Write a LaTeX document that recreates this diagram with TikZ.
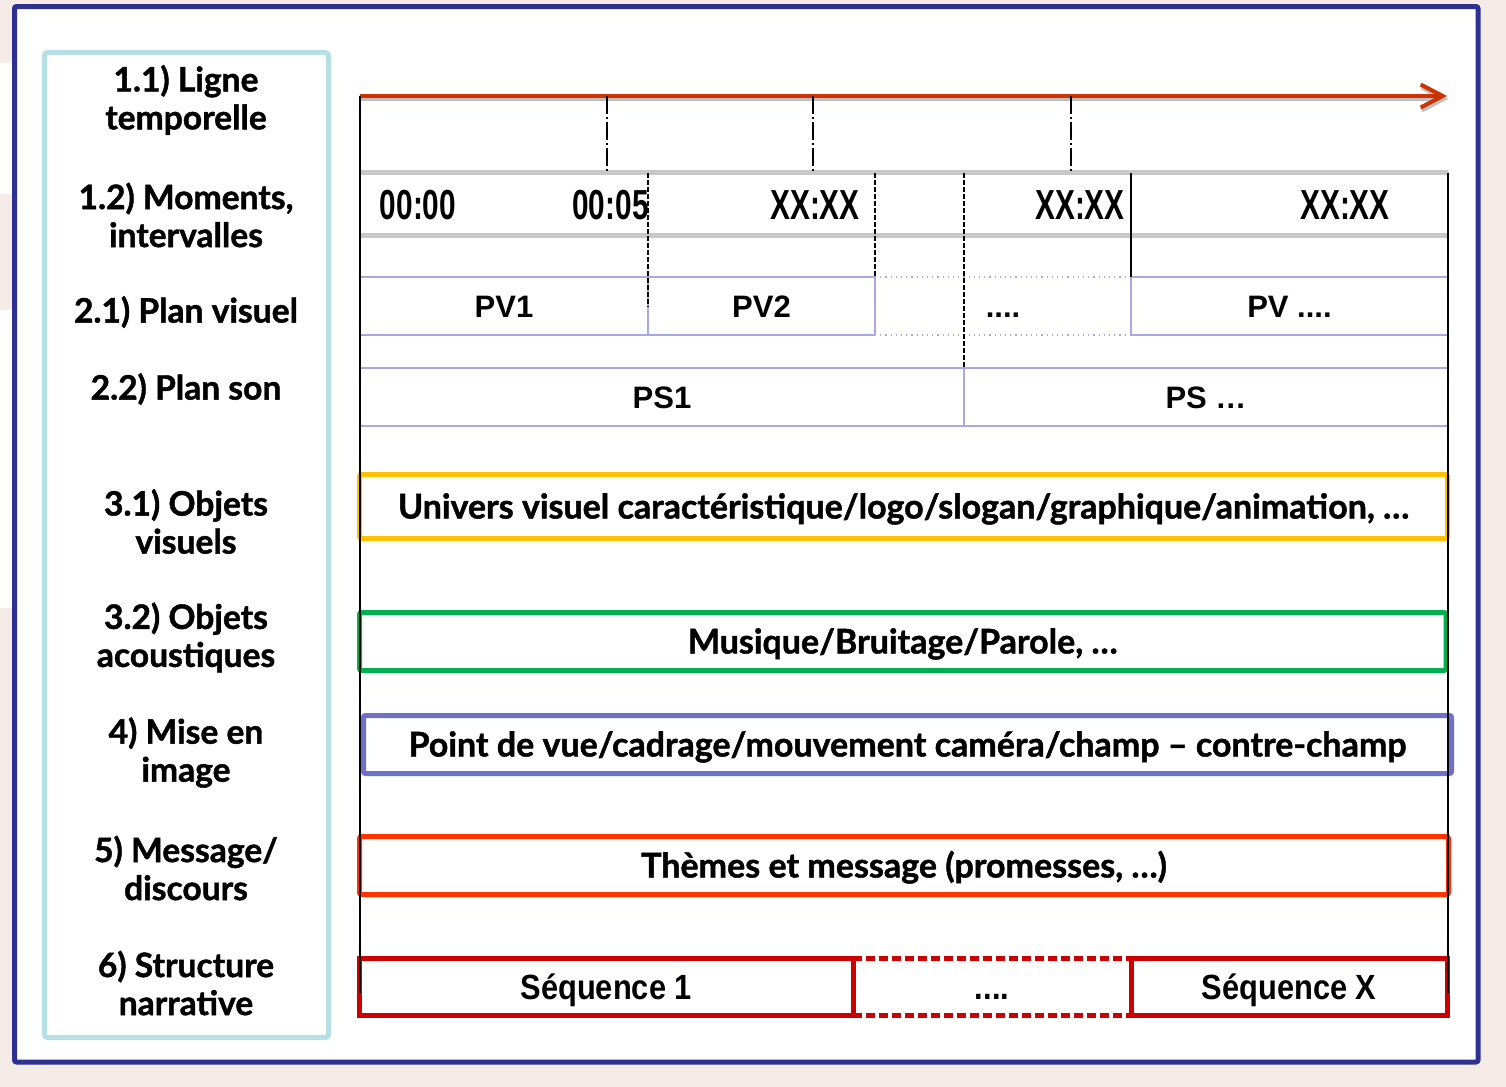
\documentclass[tikz,border=0pt]{standalone}
\usepackage{fontspec}
\setmainfont{Lato}[BoldFeatures={FakeBold=1.3}]
\newfontfamily\zeitfont[FakeStretch=0.71]{Liberation Sans}
\newfontfamily\seqfont[FakeStretch=0.88]{Liberation Sans}
\newfontfamily\pvfont{Liberation Sans}
\usetikzlibrary{arrows.meta}
\definecolor{fond}{HTML}{F6ECE7}
\definecolor{marine}{HTML}{2E3192}
\definecolor{cyanclair}{HTML}{B7E0E6}
\definecolor{ligne}{HTML}{CC3300}
\definecolor{gris}{HTML}{C8C8C8}
\definecolor{lavande}{HTML}{A8A8E6}
\definecolor{jaune}{HTML}{FFC000}
\definecolor{vert}{HTML}{00B050}
\definecolor{mauve}{HTML}{7070CC}
\definecolor{orangerouge}{HTML}{FF3300}
\definecolor{rougeseq}{HTML}{CC0000}
\tikzset{
	cell/.style 2 args={minimum width=#1*0.5pt, minimum height=#2*0.5pt, inner sep=0pt, outer sep=0pt},
	etiquette/.style={font=\bfseries\fontsize{16.8}{19}\selectfont, align=center, inner sep=0pt},
	heure/.style={font=\zeitfont\bfseries\fontsize{21}{21}\selectfont, inner sep=0pt},
	pvcell/.style={draw=lavande, line width=0.6pt, font=\pvfont\bfseries\fontsize{15.5}{16}\selectfont, text height=11pt, text depth=0pt},
	objet/.style={line width=2.5pt, rounded corners=1pt, font=\bfseries\fontsize{17}{18}\selectfont, text height=12pt, text depth=0pt},
	seqcell/.style={line width=2.5pt, font=\seqfont\bfseries\fontsize{17.5}{18}\selectfont, text height=12.5pt, text depth=0pt},
	tiret/.style={line width=0.75pt, dash pattern=on 9pt off 1.5pt on 1pt off 1.5pt},
	pointille/.style={line width=0.75pt, dash pattern=on 2.5pt off 1pt}
}
\begin{document}
\begin{tikzpicture}[x=0.5pt, y=-0.5pt]
		\useasboundingbox (0,0) rectangle (1506,1087);
		% Fond et cadres
		\fill [fond] (0,0) rectangle (1506,1087);
		\fill [white] (0,63) rectangle (14,194);
		\fill [white] (0,310) rectangle (14,608);
		\draw [marine, line width=2.5pt, fill=white, rounded corners=1pt] (14.5,6.5) rectangle (1478,1062);
		\draw [cyanclair, line width=2.5pt, rounded corners=1.5pt] (44.5,52.5) rectangle (328.5,1037.5);
		% Libelles de gauche
		\node [etiquette] (l11) at (186,100) {1.1) Ligne\\temporelle};
		\node [etiquette] (l12) at (186,215) {1.2) Moments,\\intervalles};
		\node [etiquette] (l21) at (186,312) {2.1) Plan visuel};
		\node [etiquette] (l22) at (186,389) {2.2) Plan son};
		\node [etiquette] (l31) at (186,521.5) {3.1) Objets\\visuels};
		\node [etiquette] (l32) at (186,637.5) {3.2) Objets\\acoustiques};
		\node [etiquette] (l4) at (186,752.5) {4) Mise en\\image};
		\node [etiquette] (l5) at (186,868) {5) Message/\\discours};
		\node [etiquette] (l6) at (186,983) {6) Structure\\narrative};
		% Ligne temporelle
		\coordinate (debut) at (360,96);
		\coordinate (fin) at (1447,96);
		\draw [black!25, line width=2pt, -{Straight Barb[length=11pt, width=11.5pt]}] ([shift={(1,3)}]debut) -- ([shift={(1,3)}]fin);
		\draw [ligne, line width=2pt, -{Straight Barb[length=11pt, width=11.5pt]}] (debut) -- (fin);
		% Moments, intervalles
		\node [cell={1088}{63}, draw=gris, line width=0.8pt] (temps) at (904,204) {};
		\draw [gris, line width=2.5pt] (temps.north west) -- (temps.north east);
		\draw [gris, line width=2.5pt] (temps.south west) -- (temps.south east);
		\node [heure] (h0) at (418,205) {00:00};
		\node [heure, anchor=east] (h5) at (649,205) {00:05};
		\node [heure] (hx1) at (815,205) {XX:XX};
		\node [heure] (hx2) at (1080,205) {XX:XX};
		\node [heure] (hx3) at (1345,205) {XX:XX};
		% Plans visuels et sonores
		\node [cell={288}{58}, pvcell] (pv1) at (504,306) {PV1};
		\node [cell={227}{58}, pvcell] (pv2) at (761.5,306) {PV2};
		\node [cell={256}{58}, pvcell, draw=none] (pvx) at (1003,306) {....};
		\draw [lavande, line width=0.6pt, dotted] (pvx.north west) -- (pvx.north east);
		\draw [lavande, line width=0.6pt, dotted] (pvx.south west) -- (pvx.south east);
		\node [cell={317}{58}, pvcell] (pvn) at (1289.5,306) {PV ....};
		\node [cell={604}{58}, pvcell] (ps1) at (662,397) {PS1};
		\node [cell={484}{58}, pvcell] (psn) at (1206,397) {PS …};
		% Objets, mise en image, message
		\node [cell={1088}{64}, objet, draw=jaune] (visuel) at (903.5,506.5) {Univers visuel caractéristique/logo/slogan/graphique/animation, …};
		\node [cell={1086.5}{58}, objet, draw=vert] (acoust) at (902.75,641.5) {Musique/Bruitage/Parole, …};
		\node [cell={1088}{58}, objet, draw=mauve] (image) at (907.5,744.5) {Point de vue/cadrage/mouvement caméra/champ – contre-champ};
		\node [cell={1089}{58}, objet, draw=orangerouge] (message) at (904,865.5) {Thèmes et message (promesses, …)};
		% Structure narrative
		\node [cell={278}{57}, seqcell] (seqm) at (992,987) {....};
		\draw [rougeseq, line width=2.5pt, dash pattern=on 4.5pt off 2pt] (seqm.north west) -- (seqm.north east);
		\draw [rougeseq, line width=2.5pt, dash pattern=on 4.5pt off 2pt] (seqm.south west) -- (seqm.south east);
		\node [cell={493.5}{57}, seqcell, draw=rougeseq] (seq1) at (606.25,987) {Séquence 1};
		\node [cell={316.5}{57}, seqcell, draw=rougeseq] (seqx) at (1289.25,987) {Séquence X};
		% Axes verticaux et reperes
		\coordinate (axeg) at (360,993);
		\coordinate (axed) at (1448,993);
		\draw [line width=0.75pt] (debut) -- (axeg);
		\draw [line width=0.75pt] (temps.north east) -- (axed);
		\foreach \x [count=\i] in {607,813,1071}
			\draw [tiret] (\x,96) coordinate (m\i) -- (m\i |- temps.north);
		\draw [pointille] (temps.north -| pv1.east) -- (pv1.east);
		\draw [pointille] (temps.north -| pv2.east) -- (pv2.north east);
		\draw [pointille] (temps.north -| ps1.east) -- (ps1.north east);
		\draw [line width=0.75pt] (temps.north -| pvn.west) -- (pvn.north west);
\end{tikzpicture}
\end{document}
